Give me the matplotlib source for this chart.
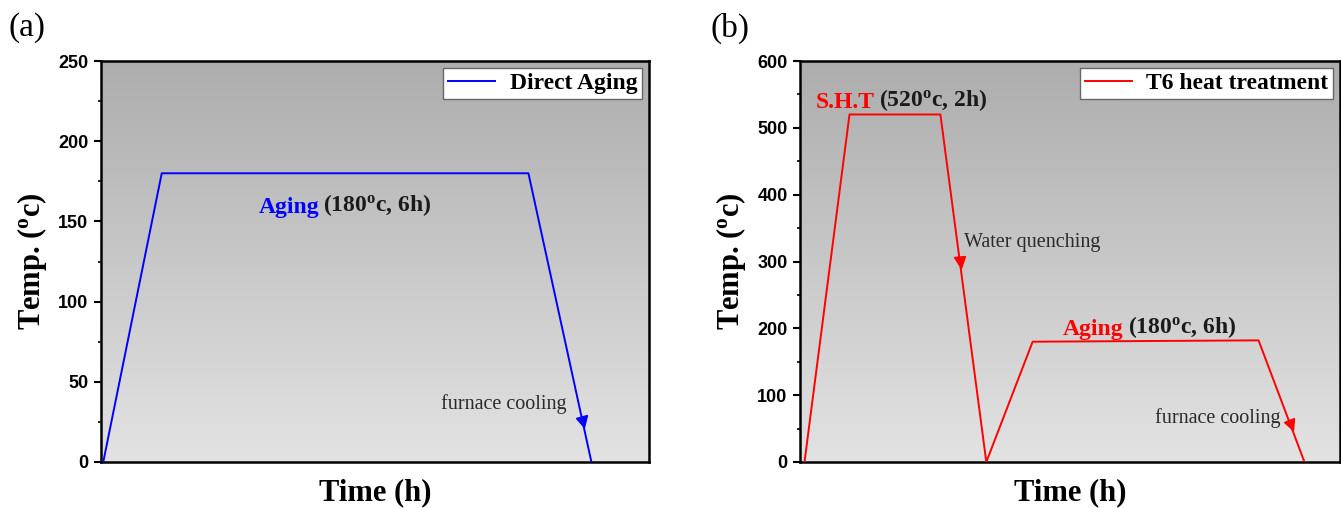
import numpy as np
import matplotlib.pyplot as plt
from matplotlib.markers import MarkerStyle
from matplotlib.transforms import Affine2D
from matplotlib.ticker import MultipleLocator
from matplotlib.colors import LinearSegmentedColormap

plt.rcParams["font.family"] = ["Liberation Serif", "DejaVu Serif"]
plt.rcParams["mathtext.fontset"] = "custom"
plt.rcParams["mathtext.rm"] = "Liberation Serif"
plt.rcParams["mathtext.bf"] = "Liberation Serif:bold"

# (a) direct aging profile
time_a = [0, 1.3, 9.45, 10.85]
temp_a = [0, 180, 180, 0]

# (b) T6 heat treatment profile
time_b = [0, 1.0, 3.02, 4.04, 5.07, 10.09, 11.11]
temp_b = [0, 520, 520, 0, 180, 182, 0]

yticks_a = [0, 50, 100, 150, 200, 250]
yticks_b = [0, 100, 200, 300, 400, 500, 600]

bg_cmap = LinearSegmentedColormap.from_list("bg", ["#e3e3e3", "#adadad"])


def gradient_bg(ax):
    grad = np.linspace(0, 1, 256).reshape(-1, 1)
    ax.imshow(grad, extent=[0, 1, 0, 1], transform=ax.transAxes, cmap=bg_cmap,
              aspect="auto", origin="lower", zorder=0)


def style_axes(ax, yticks, minor):
    for s in ax.spines.values():
        s.set_linewidth(1.8)
    ax.set_xticks([])
    ax.set_yticks(yticks)
    ax.yaxis.set_minor_locator(MultipleLocator(minor))
    ax.tick_params(axis="y", which="major", direction="out", length=5, width=1.5, pad=4)
    ax.tick_params(axis="y", which="minor", direction="out", length=2, width=1.2)
    for lab in ax.get_yticklabels():
        lab.set_fontfamily("Liberation Sans")
        lab.set_fontweight("bold")
        lab.set_fontsize(13)
    ax.set_ylabel(r"Temp. ($\mathbf{^{o}}$c)", fontsize=22, fontweight="bold", labelpad=7)
    ax.set_xlabel("Time (h)", fontsize=22, fontweight="bold", labelpad=12)


def arrow_on(ax, xs, ys, i, temp, color):
    # marker on the falling segment i -> i+1
    x0, x1 = xs[i], xs[i + 1]
    y0, y1 = ys[i], ys[i + 1]
    x = x0 + (y0 - temp) / (y0 - y1) * (x1 - x0)
    p0 = ax.transData.transform((x0, y0))
    p1 = ax.transData.transform((x1, y1))
    ang = np.degrees(np.arctan2(p1[0] - p0[0], p0[1] - p1[1]))
    m = MarkerStyle("v", transform=Affine2D().rotate_deg(ang))
    ax.plot([x], [temp], marker=m, color=color, markersize=8, zorder=4)


def two_color(ax, x, y, first, second, color, size=17):
    t1 = ax.text(x, y, first, color=color, fontsize=size, fontweight="bold",
                 ha="left", va="baseline", zorder=5)
    ax.annotate(second, xy=(1, 0), xycoords=t1, xytext=(3, 0),
                textcoords="offset points", fontsize=size, fontweight="bold",
                color="#1a1a1a", ha="left", va="bottom", zorder=5)


def add_legend(ax):
    leg = ax.legend(loc="upper right", frameon=True, fancybox=False, framealpha=1,
                    handlelength=2.0, handletextpad=0.6, borderaxespad=0.3,
                    borderpad=0.2, prop={"weight": "bold", "size": 17})
    leg.get_frame().set_edgecolor("#666666")
    leg.get_frame().set_linewidth(1.0)


fig = plt.figure(figsize=(13.41, 5.08), dpi=100)
ax1 = fig.add_axes([101 / 1341, 46 / 508, 548 / 1341, 401 / 508])
ax2 = fig.add_axes([800 / 1341, 46 / 508, 540 / 1341, 401 / 508])

# panel a
gradient_bg(ax1)
ax1.plot(time_a, temp_a, color="#0000ff", lw=1.4, label="Direct Aging", zorder=3)
ax1.set_xlim(-0.05, 12.13)
ax1.set_ylim(0, 250)
style_axes(ax1, yticks_a, 25)
arrow_on(ax1, time_a, temp_a, 2, 25, "#0000ff")
two_color(ax1, 3.45, 155, "Aging", r"(180$\mathbf{^{o}}$c, 6h)", "#0000ff")
ax1.text(7.5, 33, "furnace cooling", fontsize=14.5, color="#2a2a2a")
add_legend(ax1)

# panel b
gradient_bg(ax2)
ax2.plot(time_b, temp_b, color="#ff0000", lw=1.4, label="T6 heat treatment", zorder=3)
ax2.set_xlim(-0.1, 11.9)
ax2.set_ylim(0, 600)
style_axes(ax2, yticks_b, 50)
arrow_on(ax2, time_b, temp_b, 2, 299, "#ff0000")
arrow_on(ax2, time_b, temp_b, 5, 55, "#ff0000")
two_color(ax2, 0.25, 530, "S.H.T", r"(520$\mathbf{^{o}}$c, 2h)", "#ff0000")
two_color(ax2, 5.75, 190, "Aging", r"(180$\mathbf{^{o}}$c, 6h)", "#ff0000")
ax2.text(3.55, 322, "Water quenching", fontsize=14.5, color="#2a2a2a")
ax2.text(7.78, 58, "furnace cooling", fontsize=14.5, color="#2a2a2a")
add_legend(ax2)

fig.text(8 / 1341, 1 - 28 / 508, "(a)", fontsize=24, va="center", ha="left")
fig.text(710 / 1341, 1 - 28 / 508, "(b)", fontsize=24, va="center", ha="left")

fig.savefig("out.png", dpi=100)
